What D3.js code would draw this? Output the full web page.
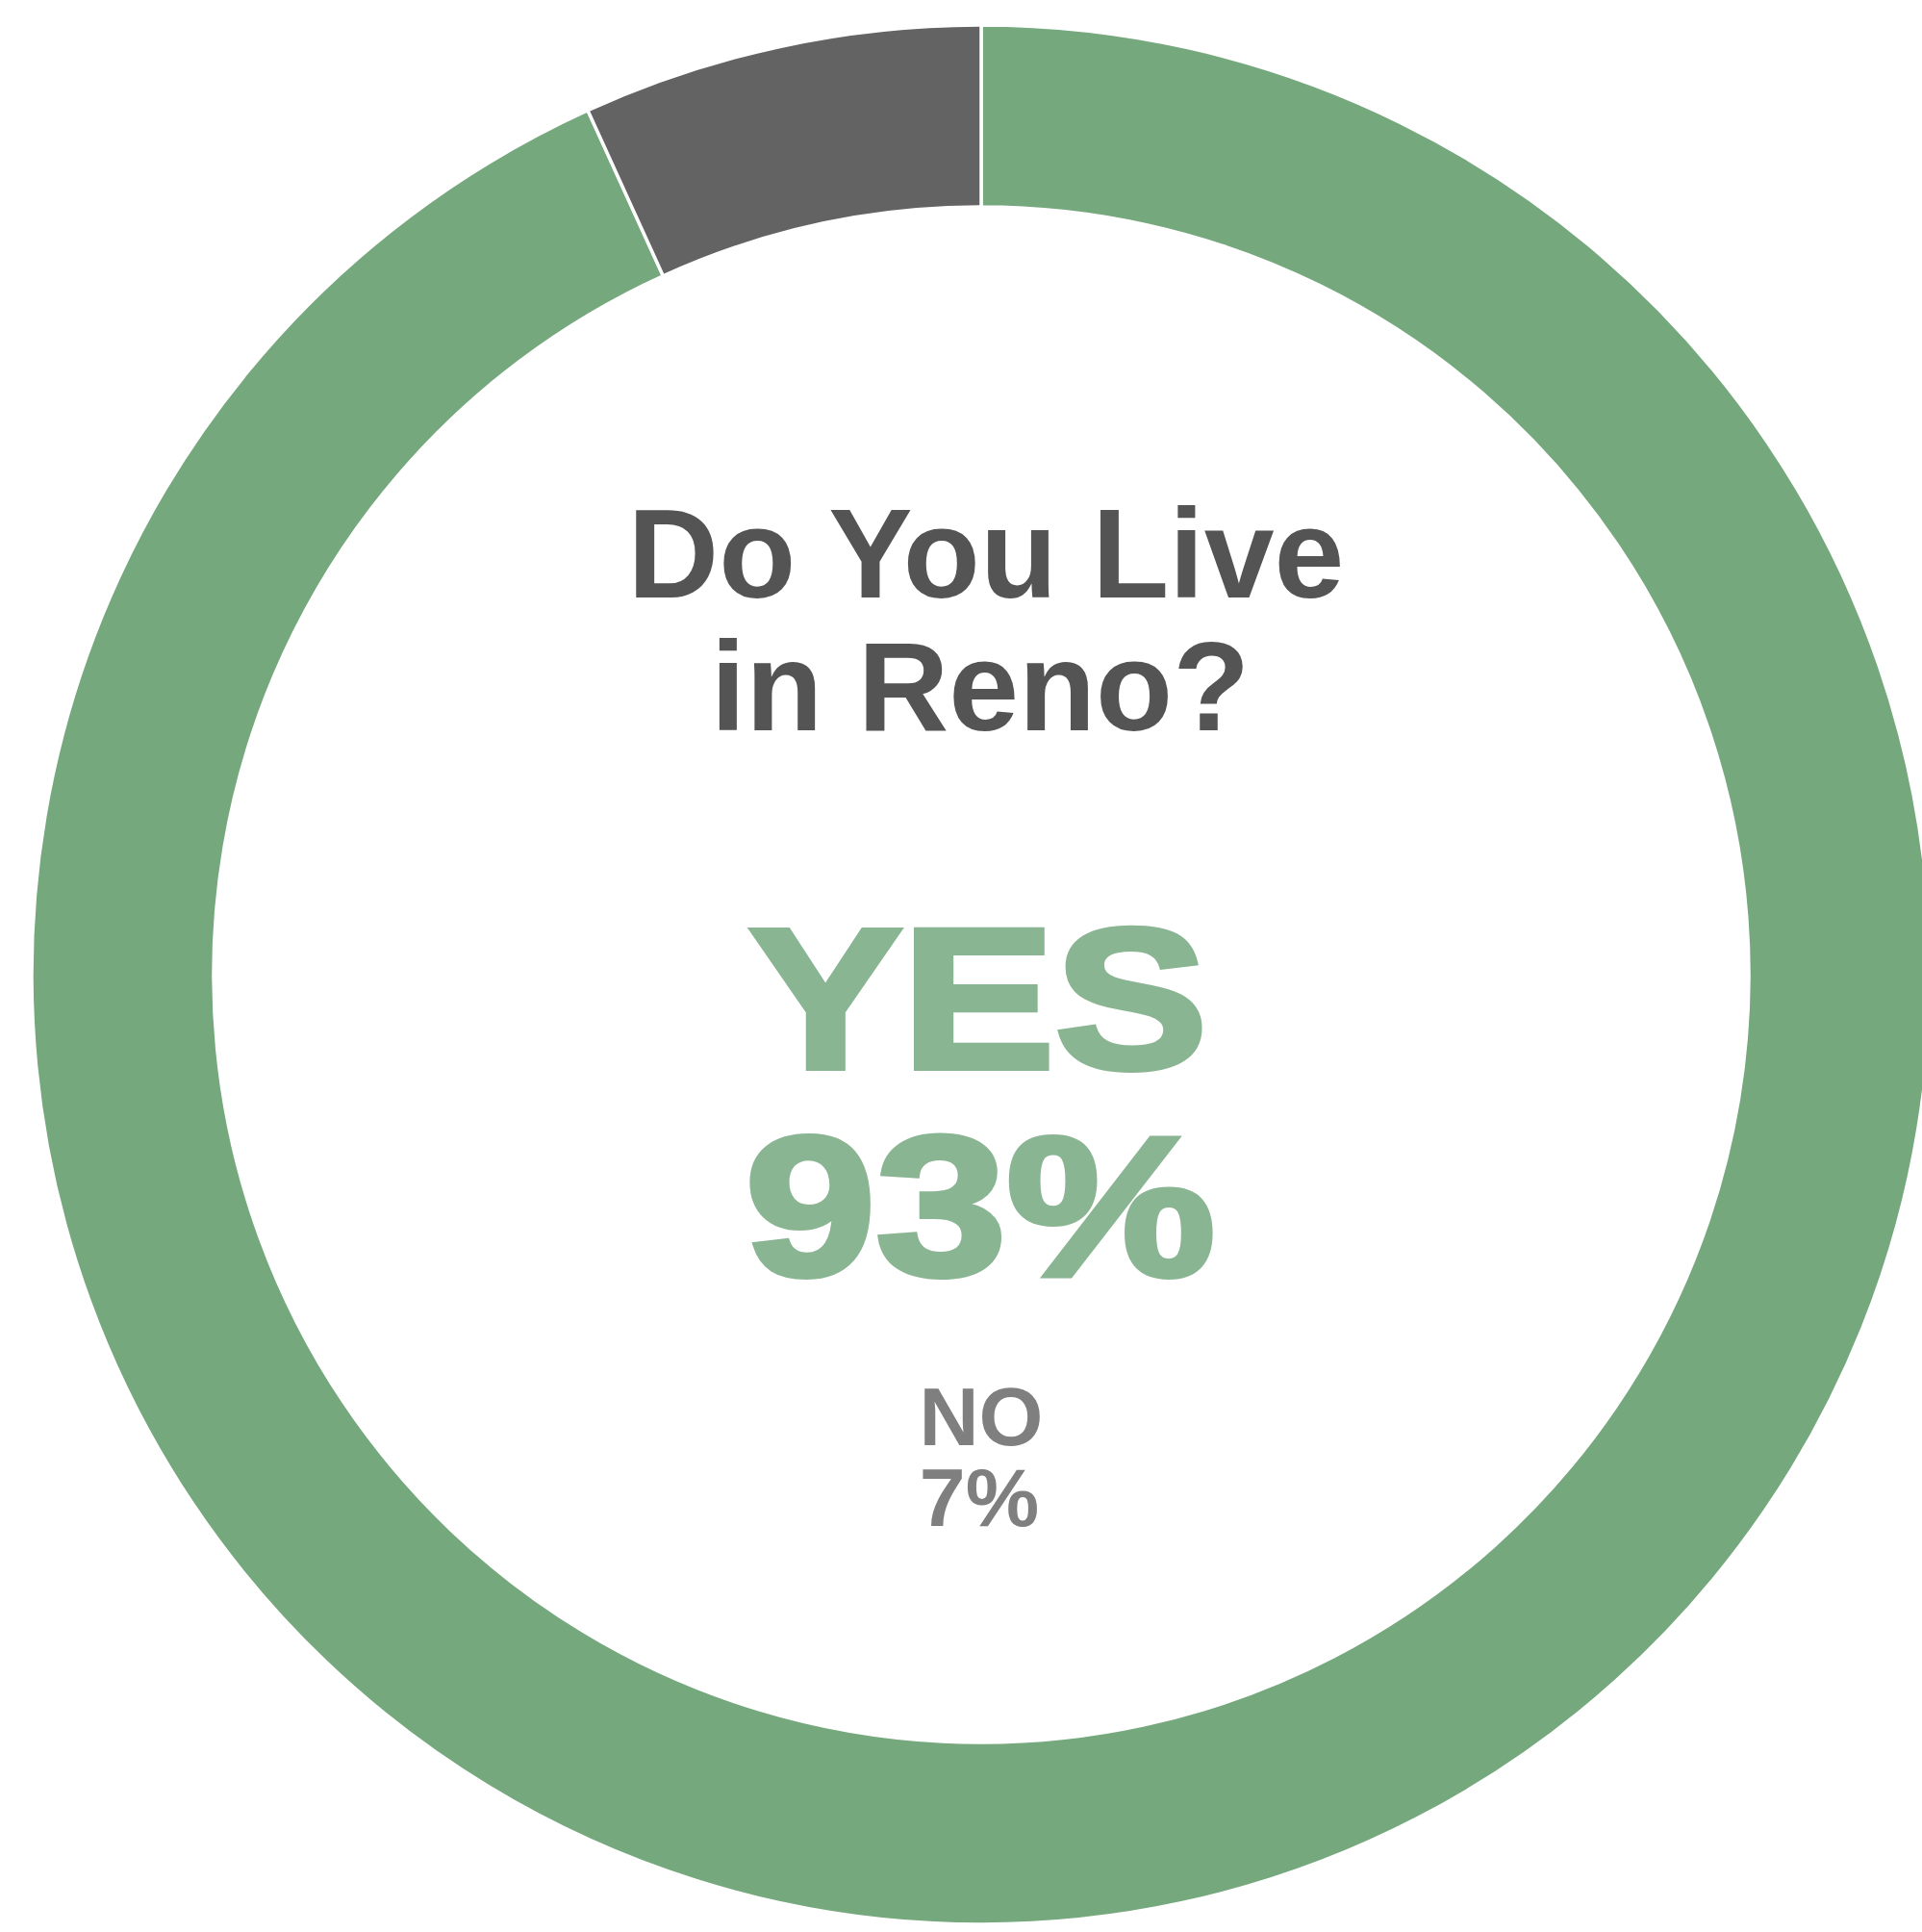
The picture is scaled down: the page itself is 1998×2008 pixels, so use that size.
<!DOCTYPE html>
<html>
<head>
<meta charset="utf-8">
<script src="https://cdn.jsdelivr.net/npm/d3@7"></script>
<style>
  html, body { margin: 0; padding: 0; background: #fff; overflow: hidden; }
  svg { display: block; }
  text { font-family: "Liberation Sans", Arial, sans-serif; font-weight: bold; }
</style>
</head>
<body>
<svg></svg>
<script>
// data
const categories = ["YES", "NO"];
const values = [93.2, 6.8];
const titleLines = ["Do You Live", "in Reno?"];

const width = 1998;
const height = 2008;
const cx = 1020, cy = 1013;
const outerR = 987, innerR = 798;

const color = d3.scaleOrdinal()
    .domain(categories)
    .range(["#76a87e", "#636363"]);

const svg = d3.select("svg")
    .attr("width", width)
    .attr("height", height);

const pie = d3.pie().sort(null).value(d => d.value);
const arc = d3.arc().innerRadius(innerR).outerRadius(outerR);

const slices = pie(categories.map((c, i) => ({ cat: c, value: values[i] })));

const ring = svg.append("g").attr("transform", `translate(${cx},${cy})`);

ring.selectAll("path")
    .data(slices)
    .enter().append("path")
    .attr("d", arc)
    .attr("fill", d => color(d.data.cat))
    .attr("stroke", "#fff")
    .attr("stroke-width", 3.5);

// title in the hole
svg.selectAll("text.title")
    .data(titleLines)
    .enter().append("text")
    .attr("class", "title")
    .attr("x", (d, i) => i === 0 ? cx + 5 : cx - 1)
    .attr("y", (d, i) => 621 + i * 138)
    .attr("text-anchor", "middle")
    .attr("font-size", 131)
    .attr("fill", "#545454")
    .text(d => d);

const fmt = v => Math.round(v) + "%";

// big YES label - heavier and wider than plain bold, so a thin stroke + stretch
const big = svg.append("g")
    .attr("fill", "#8ab592")
    .attr("stroke", "#8ab592")
    .attr("stroke-width", 6)
    .attr("stroke-linejoin", "miter");
big.append("text")
    .attr("transform", `translate(${cx - 3},1110) scale(1.145,1)`)
    .attr("text-anchor", "middle")
    .attr("font-size", 208)
    .text(categories[0]);
big.append("text")
    .attr("transform", `translate(${cx - 1},1325) scale(1.18,1)`)
    .attr("text-anchor", "middle")
    .attr("font-size", 207)
    .text(fmt(values[0]));

// small NO label
const small = svg.append("g").attr("fill", "#7f7f7f");
small.append("text")
    .attr("x", cx)
    .attr("y", 1502)
    .attr("text-anchor", "middle")
    .attr("font-size", 86)
    .text(categories[1]);
small.append("text")
    .attr("x", cx - 2)
    .attr("y", 1586)
    .attr("text-anchor", "middle")
    .attr("font-size", 86)
    .text(fmt(values[1]));
</script>
</body>
</html>
